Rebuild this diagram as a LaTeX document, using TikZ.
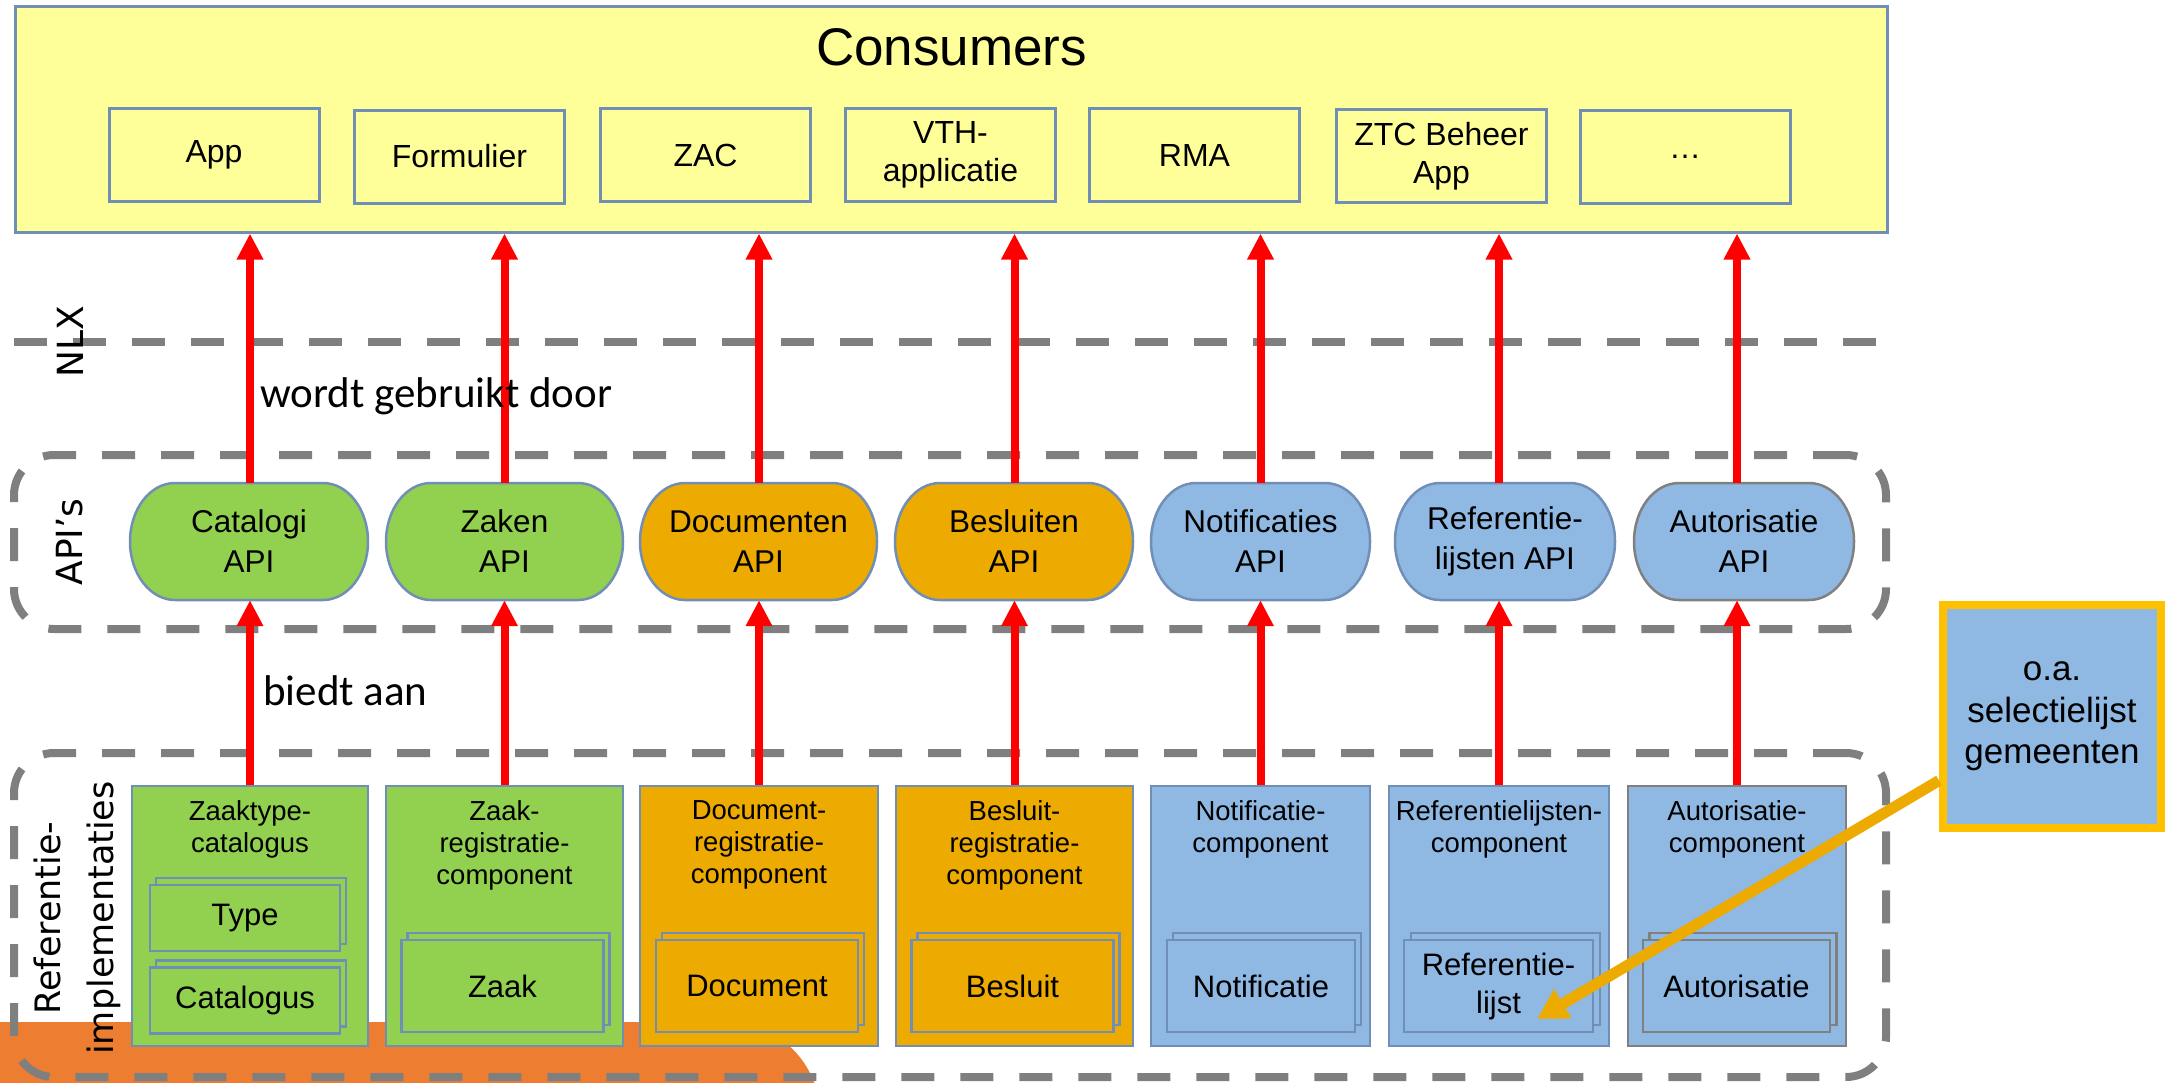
\documentclass[tikz,border=0pt]{standalone}
\usepackage{fontspec}
\setmainfont{Liberation Sans}
\newfontfamily\cbfont{Carlito}
\newfontfamily\dvfont{DejaVu Sans}
\usetikzlibrary{arrows.meta}
\definecolor{consY}{RGB}{255,255,153}
\definecolor{bordB}{RGB}{113,142,182}
\definecolor{grnF}{RGB}{146,208,80}
\definecolor{orgF}{RGB}{237,170,0}
\definecolor{bluF}{RGB}{143,185,227}
\definecolor{dashG}{RGB}{127,127,127}
\definecolor{blobO}{RGB}{237,125,49}
\definecolor{goldB}{RGB}{255,192,0}
\definecolor{arrO}{RGB}{237,170,0}
\definecolor{redA}{RGB}{255,0,0}
\definecolor{grayB}{RGB}{128,128,128}
\newcommand\fsz[2]{\fontsize{#1}{#2}\selectfont}
\newcommand\apishape[4]{%
  \filldraw[fill=#3, draw=#4, line width=2.5pt]
   ({#1-#2/2+45},483) -- ({#1+#2/2-45},483)
   arc[start angle=90, end angle=-90, x radius=45pt, y radius=58.5pt]
   -- ({#1-#2/2+45},600)
   arc[start angle=270, end angle=90, x radius=45pt, y radius=58.5pt] -- cycle;}
\begin{document}
\begin{tikzpicture}[x=1pt,y=-1pt,
  cbox/.style={draw=bordB, line width=3pt, fill=consY, inner sep=0pt, align=center, font=\fsz{32}{38}, minimum width=210pt, minimum height=93pt},
  apitext/.style={inner sep=0pt, align=center, font=\fsz{31.5}{40}, minimum height=117pt},
  compbox/.style={draw=bordB, line width=2.5pt, inner sep=0pt, minimum height=260pt},
  ctitle/.style={inner sep=0pt, align=center, font=\fsz{27.5}{32}, anchor=north},
  ibox/.style={draw=bordB, line width=2.5pt, inner sep=0pt, align=center, font=\fsz{31}{38}},
  dashbox/.style={draw=dashG, line width=8pt, dash pattern=on 33pt off 26pt, rounded corners=40pt, inner sep=0pt},
  redarrow/.style={draw=redA, line width=8pt, -{Triangle[length=26pt,width=25pt]}},
  sidelabel/.style={rotate=90, font=\dvfont\fsz{36}{43}, inner sep=0pt},
]
\useasboundingbox (0,0) rectangle (2169,1082);

% orange blob
\begin{scope}
\clip (0,0) rectangle (2169,1082);
\fill[blobO, rounded corners=93pt] (-150,1022) rectangle (820,1400);
\end{scope}

% dashed separators
\draw[draw=dashG, line width=8pt, dash pattern=on 33pt off 26pt] (14,341.5) -- (1889,341.5);
\node[dashbox, minimum width=1872pt, minimum height=174pt] (apibox) at (950,542) {};
\node[dashbox, minimum width=1872pt, minimum height=324pt] (refbox) at (950,915) {};

% consumers
\node[draw=bordB, line width=3pt, fill=consY, minimum width=1872pt, minimum height=226pt, inner sep=0pt] (cons) at (951.5,119) {};
\node[anchor=base, font=\fsz{53}{60}, inner sep=0pt] (constitle) at (951.5,65) {Consumers};
\node[cbox] (app) at (214,155) {App};
\node[cbox] (form) at (459.5,156.5) {Formulier};
\node[cbox] (zac) at (705.5,155) {ZAC};
\node[cbox] (vth) at (950.5,155) {VTH-\\applicatie};
\node[cbox] (rma) at (1194.5,155) {RMA};
\node[cbox] (ztc) at (1441.5,156) {ZTC Beheer\\App};
\node[cbox] (more) at (1685,156.5) {…};

% APIs
\apishape{249}{238}{grnF}{bordB}
\node[apitext, minimum width=238pt] (a1) at (249,541.5) {Catalogi\\API};
\apishape{504.5}{237}{grnF}{bordB}
\node[apitext, minimum width=237pt] (a2) at (504.5,541.5) {Zaken\\API};
\apishape{758.5}{237}{orgF}{bordB}
\node[apitext, minimum width=237pt] (a3) at (758.5,541.5) {Documenten\\API};
\apishape{1014}{238}{orgF}{bordB}
\node[apitext, minimum width=238pt] (a4) at (1014,541.5) {Besluiten\\API};
\apishape{1260.5}{219}{bluF}{bordB}
\node[apitext, minimum width=219pt] (a5) at (1260.5,541.5) {Notificaties\\API};
\apishape{1505}{220}{bluF}{bordB}
\node[apitext, minimum width=220pt] (a6) at (1505,541.5) {Referentie-\\lijsten API};
\apishape{1744}{220}{bluF}{grayB}
\node[apitext, minimum width=220pt] (a7) at (1744,541.5) {Autorisatie\\API};

% components
\node[compbox, fill=grnF, minimum width=236pt] (c1) at (250,916) {};
\node[ctitle] (t1) at (250,800) {Zaaktype-\\catalogus};
\node[ibox, fill=grnF, minimum width=190pt, minimum height=66pt] (b1b) at (251,911) {};
\node[ibox, fill=grnF, minimum width=190pt, minimum height=66pt] (b1) at (245,918) {Type};
\node[ibox, fill=grnF, minimum width=190pt, minimum height=66pt] (b1cb) at (251,993.5) {};
\node[ibox, fill=grnF, minimum width=190pt, minimum height=66pt] (b1c) at (245,1000.5) {Catalogus};

\node[compbox, fill=grnF, minimum width=237pt] (c2) at (504.5,916) {};
\node[ctitle] (t2) at (504.5,800) {Zaak-\\registratie-\\component};
\node[ibox, fill=grnF, minimum width=202pt, minimum height=92pt] (b2b) at (508.5,979) {};
\node[ibox, fill=grnF, minimum width=202pt, minimum height=92pt] (b2) at (502.5,986) {Zaak};

\node[compbox, fill=orgF, minimum width=238pt] (c3) at (759,916) {};
\node[ctitle] (t3) at (759,800) {Document-\\registratie-\\component};
\node[ibox, fill=orgF, minimum width=202pt, minimum height=92pt] (b3b) at (763,979) {};
\node[ibox, fill=orgF, minimum width=202pt, minimum height=92pt] (b3) at (757,986) {Document};

\node[compbox, fill=orgF, minimum width=237pt] (c4) at (1014.5,916) {};
\node[ctitle] (t4) at (1014.5,800) {Besluit-\\registratie-\\component};
\node[ibox, fill=orgF, minimum width=202pt, minimum height=92pt] (b4b) at (1018.5,979) {};
\node[ibox, fill=orgF, minimum width=202pt, minimum height=92pt] (b4) at (1012.5,986) {Besluit};

\node[compbox, fill=bluF, minimum width=219pt] (c5) at (1260.5,916) {};
\node[ctitle] (t5) at (1260.5,800) {Notificatie-\\component};
\node[ibox, fill=bluF, minimum width=188pt, minimum height=92pt] (b5b) at (1267,979) {};
\node[ibox, fill=bluF, minimum width=188pt, minimum height=92pt] (b5) at (1261,986) {Notificatie};

\node[compbox, fill=bluF, minimum width=220pt] (c6) at (1499,916) {};
\node[ctitle] (t6) at (1499,800) {Referentielijsten-\\component};
\node[ibox, fill=bluF, minimum width=189pt, minimum height=92pt] (b6b) at (1505.5,979) {};
\node[ibox, fill=bluF, minimum width=189pt, minimum height=92pt] (b6) at (1498.5,986) {Referentie-\\lijst};

\node[compbox, fill=bluF, draw=grayB, minimum width=218pt] (c7) at (1737,916) {};
\node[ctitle] (t7) at (1737,800) {Autorisatie-\\component};
\node[ibox, fill=bluF, draw=grayB, minimum width=187pt, minimum height=92pt] (b7b) at (1743,979) {};
\node[ibox, fill=bluF, draw=grayB, minimum width=187pt, minimum height=92pt] (b7) at (1736.5,986) {Autorisatie};

% red arrows
\foreach \i in {1,...,7} {
  \draw[redarrow] (c\i.north) -- (c\i.north |- a\i.south);
  \draw[redarrow] (c\i.north |- a\i.north) -- (c\i.north |- cons.south);
}

% labels
\node[anchor=base west, font=\cbfont\fsz{43}{50}, inner sep=0pt] (used) at (260,407) {wordt gebruikt door};
\node[anchor=base west, font=\cbfont\fsz{43}{50}, inner sep=0pt] (offers) at (263,705) {biedt aan};
\node[sidelabel] (nlx) at (70,342) {NLX};
\node[sidelabel] (apis) at (70,542) {API’s};
\node[sidelabel, align=center, font=\dvfont\fsz{35}{53}] (refimpl) at (77.5,918) {Referentie-\\implementaties};

% o.a. box and arrow
\node[draw=goldB, line width=8pt, fill=bluF, minimum width=218pt, minimum height=223pt, inner sep=0pt, align=center, font=\fsz{35}{41.5}] (oa) at (2052,716.5) {o.a.\\selectielijst\\gemeenten};
\coordinate (tip) at (1537,1019);
\draw[draw=arrO, line width=11pt, -{Triangle[length=30pt,width=32pt]}] ([yshift=-64pt]oa.west) -- (tip);
\end{tikzpicture}
\end{document}
